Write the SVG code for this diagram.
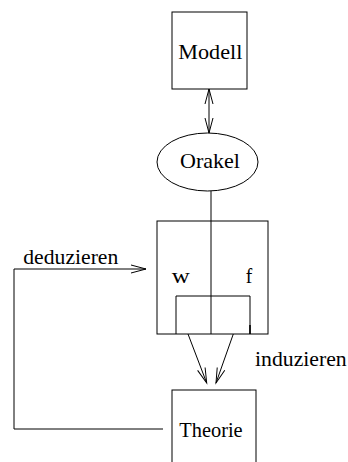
<svg xmlns="http://www.w3.org/2000/svg" width="348" height="462" viewBox="0 0 348 462">
  <style>
    .ln { fill: none; stroke: #000; stroke-width: 1; }
    .lbl { font-family: "Liberation Serif", "Times New Roman", serif; font-size: 21px; fill: #000; }
  </style>
  <defs>
    <!-- open V arrowhead, tip at the reference point -->
    <marker id="vee" viewBox="-16 -5 17 10" refX="0" refY="0" markerWidth="17" markerHeight="10" markerUnits="userSpaceOnUse" orient="auto-start-reverse" overflow="visible">
      <path d="M-15,-4 L0,0 L-15,4" fill="none" stroke="#000" stroke-width="1"/>
    </marker>
  </defs>
  <rect width="348" height="462" fill="#fff"/>

  <g id="modell">
    <rect class="ln" x="172" y="12" width="75" height="77"/>
    <text class="lbl" x="178.3" y="59.3" textLength="64" lengthAdjust="spacingAndGlyphs">Modell</text>
  </g>

  <g id="orakel">
    <ellipse class="ln" cx="207.5" cy="162" rx="50.5" ry="29"/>
    <text class="lbl" x="180" y="168.3" textLength="60" lengthAdjust="spacingAndGlyphs">Orakel</text>
  </g>

  <g id="kasten">
    <rect class="ln" x="157" y="221" width="111" height="113"/>
    <path class="ln" d="M176,334 V296 H250 V334"/>
    <path d="M250,325 V334" fill="none" stroke="#000" stroke-width="1.6"/>
    <text class="lbl" x="171.7" y="283.3" textLength="18" lengthAdjust="spacingAndGlyphs">w</text>
    <text class="lbl" x="245.7" y="283.3" textLength="6.5" lengthAdjust="spacingAndGlyphs">f</text>
  </g>

  <g id="theorie">
    <rect class="ln" x="172" y="390" width="84" height="90"/>
    <text class="lbl" x="179.3" y="436.7" textLength="63.3" lengthAdjust="spacingAndGlyphs">Theorie</text>
  </g>

  <g id="connectors">
    <!-- Modell <-> Orakel -->
    <path class="ln" d="M209,89 V133" marker-start="url(#vee)" marker-end="url(#vee)"/>
    <!-- Orakel down through the box -->
    <path class="ln" d="M211,191 V334"/>
    <!-- induction arrows into Theorie -->
    <path class="ln" d="M188,334 L206.7,383" marker-end="url(#vee)"/>
    <path class="ln" d="M233.3,334 L216,383" marker-end="url(#vee)"/>
    <!-- deduction feedback loop -->
    <path class="ln" d="M163,429 H14 V269 H146" marker-end="url(#vee)"/>
  </g>

  <g id="labels">
    <text class="lbl" x="23.3" y="264" textLength="95" lengthAdjust="spacingAndGlyphs">deduzieren</text>
    <text class="lbl" x="255" y="366" textLength="91.7" lengthAdjust="spacingAndGlyphs">induzieren</text>
  </g>
</svg>
